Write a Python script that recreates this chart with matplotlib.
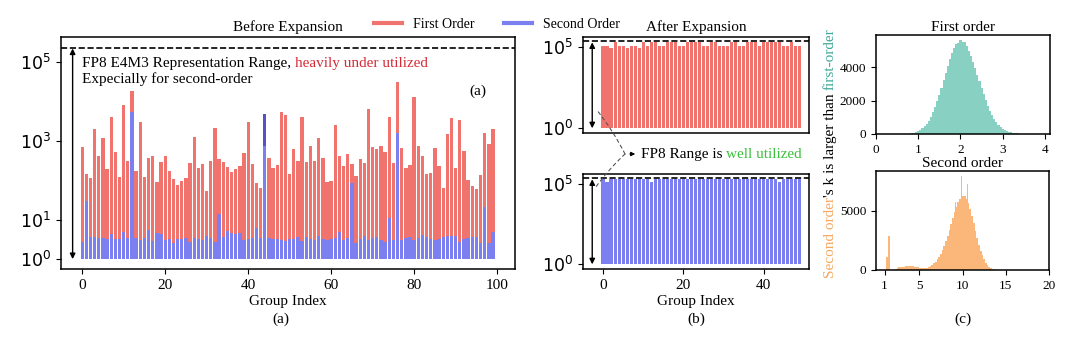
import numpy as np
import matplotlib
matplotlib.use("Agg")
import matplotlib.pyplot as plt
from matplotlib.lines import Line2D
from matplotlib.ticker import NullLocator

plt.rcParams['font.family'] = ['Liberation Serif', 'DejaVu Serif']
plt.rcParams['mathtext.fontset'] = 'dejavusans'
plt.rcParams['axes.linewidth'] = 1.1

# ---------------- data ----------------
# (a) before expansion: per-group max value, first / second order (log scale)
first_order = [700, 145, 115, 2000, 400, 1200, 195, 4000, 520, 118,
               8300, 315, 18600, 170, 3000, 118, 370, 405, 90, 290,
               405, 175, 107, 77, 97, 115, 270, 1260, 208, 257,
               54, 315, 2150, 340, 295, 213, 165, 190, 230, 480,
               3000, 253, 83, 65, 740, 370, 208, 250, 5500, 4500,
               141, 605, 308, 3950, 295, 740, 315, 1200, 372, 91,
               97, 2470, 410, 229, 460, 252, 128, 340, 270, 6400,
               710, 620, 740, 520, 3950, 277, 31600, 645, 208, 240,
               13100, 740, 410, 144, 155, 645, 229, 65, 1480, 3870,
               208, 3380, 550, 102, 71, 60, 135, 1550, 830, 1950]
second_order = [2.75, 30, 3.55, 3.55, 3.4, 3.4, 3.2, 4.45, 3.2, 3.2,
                4.9, 3.4, 5500, 3.4, 3.05, 3.4, 5.5, 2.95, 4.65, 4.45,
                3.05, 3.2, 2.6, 3.2, 3.2, 3.4, 2.75, 3.4, 3.2, 3.05,
                3.8, 3.4, 2.75, 13.9, 3.7, 5.1, 4.65, 4.3, 4.65, 3.05,
                3.2, 3.4, 6.1, 3.4, 4800, 3.4, 3.3, 3.2, 3.05, 2.9,
                3.3, 3.2, 3.6, 2.9, 3.6, 3.3, 3.05, 3.8, 3.3, 3.05,
                3.2, 3.4, 4.9, 3.05, 3.4, 87, 2.6, 3.2, 3.8, 3.05,
                3.4, 3.7, 3.0, 2.75, 10.8, 3.05, 1600, 3.05, 3.4, 3.55,
                3.05, 3.4, 4.1, 3.55, 3.2, 3.05, 3.2, 3.7, 3.8, 3.8,
                3.8, 2.75, 3.3, 3.4, 3.7, 3.55, 2.6, 21, 2.6, 4.9]
overlap_groups = [44]          # group whose second-order bar exceeds first-order
fp8_max = 2.3e5                # dashed "FP8 E4M3 representation range" line

# (b) after expansion (50 groups)
after_first = [1.17e5, 1.17e5, 8.5e4, 2.1e5, 1.17e5, 1.17e5, 8.5e4, 1.17e5, 1.17e5, 8.5e4,
               2.1e5, 1.17e5, 2.1e5, 2.1e5, 1.17e5, 1.17e5, 2.1e5, 2.1e5, 2.1e5, 1.17e5,
               1.17e5, 2.1e5, 2.1e5, 2.1e5, 2.1e5, 1.17e5, 1.17e5, 2.1e5, 2.1e5, 1.17e5,
               1.17e5, 1.17e5, 2.1e5, 2.1e5, 1.17e5, 1.17e5, 2.1e5, 2.1e5, 2.1e5, 1.17e5,
               2.1e5, 2.1e5, 2.1e5, 2.1e5, 2.1e5, 1.17e5, 1.17e5, 2.1e5, 1.17e5, 1.17e5]
after_second = [2.0e5, 1.3e5, 2.0e5, 2.0e5, 2.0e5, 2.0e5, 2.0e5, 2.0e5, 2.0e5, 2.0e5,
                2.0e5, 2.0e5, 1.3e5, 2.0e5, 2.0e5, 2.0e5, 2.0e5, 2.0e5, 2.0e5, 2.0e5,
                2.0e5, 2.0e5, 2.0e5, 2.0e5, 2.0e5, 2.0e5, 2.0e5, 2.0e5, 2.0e5, 2.0e5,
                2.0e5, 2.0e5, 2.0e5, 2.0e5, 2.0e5, 2.0e5, 2.0e5, 2.0e5, 2.0e5, 2.0e5,
                2.0e5, 2.0e5, 2.0e5, 2.0e5, 1.3e5, 2.0e5, 2.0e5, 2.0e5, 2.0e5, 2.0e5]

# (c) histograms of k
first_bin_start, first_bin_width = 0.85, 0.05
first_counts = [57, 85, 123, 176, 246, 339, 460, 611, 798, 1026,
                1297, 1610, 1966, 2356, 2778, 3218, 3665, 4100, 4509, 4877,
                5180, 5410, 5480, 5650, 5520, 5500, 5254, 5000, 4690, 4340,
                3958, 3557, 3153, 2755, 2375, 2017, 1690, 1396, 1137, 913,
                722, 564, 434, 329, 246, 181, 132, 95, 67, 46, 32, 20]
second_bin_start, second_bin_width = 1.3, 0.2
second_counts = [1100, 2900, 0, 0, 40, 120, 180, 220, 250, 270,
                 290, 300, 310, 320, 320, 310, 290, 260, 220, 190,
                 170, 160, 170, 200, 250, 330, 430, 560, 720, 900,
                 1120, 1380, 1680, 2030, 2450, 2900, 3400, 3900, 4400, 4900,
                 5350, 5750, 6050, 6250, 6300, 6250, 6050, 5700, 5200, 4600,
                 3950, 3300, 2700, 2150, 1650, 1250, 900, 620, 420, 270,
                 170, 100, 60, 30, 15, 5]
second_spike_k = [9.15, 9.85, 10.55]
second_spike_counts = [5750, 7990, 7300]

# ---------------- style ----------------
RED = '#F0736D'
BLUE = '#7B7FF0'
DARK = '#5A4FC6'
TEAL = '#88D0C1'
ORANGE = '#FBB679'
TXT_RED = '#D42A36'
TXT_GREEN = '#3CBF3C'
TXT_TEAL = '#3FA89A'
TXT_ORANGE = '#F5A860'

W, H = 1080, 341
fig = plt.figure(figsize=(W / 100, H / 100), dpi=100)
renderer = fig.canvas.get_renderer()


def add_ax(l, t, r, b):
    return fig.add_axes([l / W, 1 - b / H, (r - l) / W, (b - t) / H])


def fpos(x, y):
    return x / W, 1 - y / H


def multicolor(x, y, parts, size, rotation=0):
    X, Y = x, H - y
    for s, c in parts:
        t = fig.text(X / W, Y / H, s, color=c, fontsize=size, ha='left',
                     va='baseline', rotation=rotation, rotation_mode='anchor')
        bb = t.get_window_extent(renderer)
        if rotation == 0:
            X = bb.x1
        else:
            Y = bb.y1


def log_ticks(ax, ticks, exps):
    ax.set_yticks(ticks)
    ax.set_yticklabels([r'$10^{%d}$' % e for e in exps], fontsize=12.5)
    ax.yaxis.set_minor_locator(NullLocator())


def range_arrow(ax, x, y0, y1):
    ax.annotate('', xy=(x, y0), xytext=(x, y1),
                arrowprops=dict(arrowstyle='<|-|>', color='black', lw=1.0,
                                mutation_scale=8, shrinkA=0, shrinkB=0))


# ---------------- (a) before expansion ----------------
ax1 = add_ax(61, 37, 515, 269)
ax1.set_yscale('log')
g = np.arange(len(first_order))
fo = np.array(first_order, float)
so = np.array(second_order, float)
ax1.bar(g, fo - 1, bottom=1, width=0.8, color=RED, linewidth=0)
ax1.bar(g, so - 1, bottom=1, width=0.8, color=BLUE, linewidth=0)
for i in overlap_groups:
    ax1.bar(i, so[i] - fo[i], bottom=fo[i], width=0.8, color=DARK, linewidth=0)
ax1.axhline(fp8_max, color='black', ls='--', lw=1.2)
ax1.set_ylim(10 ** -0.25, 10 ** 5.63)
ax1.set_xlim(-5.1, 104.3)
log_ticks(ax1, [1, 10, 1e3, 1e5], [0, 1, 3, 5])
ax1.set_xticks(range(0, 101, 20))
ax1.tick_params(axis='x', labelsize=11)
range_arrow(ax1, -2.3, 1, fp8_max * 0.95)
ax1.set_title('Before Expansion', fontsize=11, pad=4)
ax1.set_xlabel('Group Index', fontsize=11, labelpad=2)
multicolor(82, 67, [('FP8 E4M3 Representation Range, ', 'black'),
                    ('heavily under utilized', TXT_RED)], 11)
fig.text(*fpos(82, 82.5), 'Expecially for second-order', fontsize=11, va='baseline')
fig.text(*fpos(469, 95), '(a)', fontsize=11, va='baseline')
fig.text(*fpos(281, 323), '(a)', fontsize=11, va='baseline', ha='center')

# ---------------- (b) after expansion ----------------
g2 = np.arange(len(after_first))
ax2 = add_ax(583, 37, 809, 133)
ax3 = add_ax(583, 174, 809, 269)
for ax, vals, col in [(ax2, after_first, RED), (ax3, after_second, BLUE)]:
    ax.set_yscale('log')
    ax.bar(g2, np.array(vals) - 1, bottom=1, width=0.8, color=col, linewidth=0)
    ax.axhline(fp8_max, color='black', ls='--', lw=1.2)
    ax.set_ylim(10 ** -0.29, 10 ** 5.62)
    ax.set_xlim(-5.0, 51.3)
    log_ticks(ax, [1, 1e5], [0, 5])
    range_arrow(ax, -2.7, 1, fp8_max * 0.85)
ax2.set_xticks([])
ax3.set_xticks([0, 20, 40])
ax3.tick_params(axis='x', labelsize=11)
ax3.set_xlabel('Group Index', fontsize=11, labelpad=2)
ax2.set_title('After Expansion', fontsize=11, pad=4)
fig.text(*fpos(696, 323), '(b)', fontsize=11, va='baseline', ha='center')

hub = fpos(625, 154)
for ax, target in [(ax2, (-1.4, 12)), (ax3, (-1.9, 6e4))]:
    ax.annotate('', xy=target, xycoords='data', xytext=hub, textcoords='figure fraction',
                arrowprops=dict(arrowstyle='-', ls=(0, (3, 3)), color='#555555', lw=0.8,
                                shrinkA=0, shrinkB=0, connectionstyle='arc3,rad=0.05'),
                annotation_clip=False)
fig.add_artist(matplotlib.patches.FancyArrowPatch(fpos(627, 154), fpos(638, 154),
               arrowstyle='-|>', mutation_scale=6, color='black', lw=0.8,
               transform=fig.transFigure))
multicolor(641, 158, [('FP8 Range is ', 'black'), ('well utilized', TXT_GREEN)], 11)

# legend
handles = [Line2D([], [], color=RED, lw=3), Line2D([], [], color=BLUE, lw=3)]
fig.legend(handles, ['First Order', 'Second Order'], loc='center',
           bbox_to_anchor=fpos(497, 24), ncol=2, frameon=False, fontsize=10,
           handlelength=2.0, handletextpad=0.8, columnspacing=2.1)

# ---------------- (c) histograms ----------------
ax4 = add_ax(876, 35, 1050, 134)
c1 = np.array(first_counts, float)
k1 = first_bin_start + first_bin_width * np.arange(len(c1))
ax4.bar(k1, c1, width=first_bin_width, color=TEAL, linewidth=0)
ax4.set_xlim(0, 4.12)
ax4.set_yticks([0, 2000, 4000])
ax4.set_xticks([0, 1, 2, 3, 4])
ax4.tick_params(labelsize=9.5)
ax4.set_title('First order', fontsize=11, pad=3)

ax5 = add_ax(876, 171, 1049, 270)
c2 = np.array(second_counts, float)
k2 = second_bin_start + second_bin_width * np.arange(len(c2))
ax5.bar(k2, c2, width=second_bin_width, color=ORANGE, linewidth=0)
ax5.bar(second_spike_k, second_spike_counts, width=0.1, color=ORANGE, linewidth=0)
ax5.set_xlim(0, 20)
ax5.set_yticks([0, 5000])
ax5.set_xticks([1, 5, 10, 15, 20])
ax5.tick_params(labelsize=9.5)
ax5.set_title('Second order', fontsize=11, pad=3)
fig.text(*fpos(963, 323), '(c)', fontsize=11, va='baseline', ha='center')

multicolor(834, 278, [('Second order', TXT_ORANGE), ("'s k is larger than ", 'black'),
                      ('first-order', TXT_TEAL)], 11, rotation=90)

fig.savefig('out.png', dpi=100)
